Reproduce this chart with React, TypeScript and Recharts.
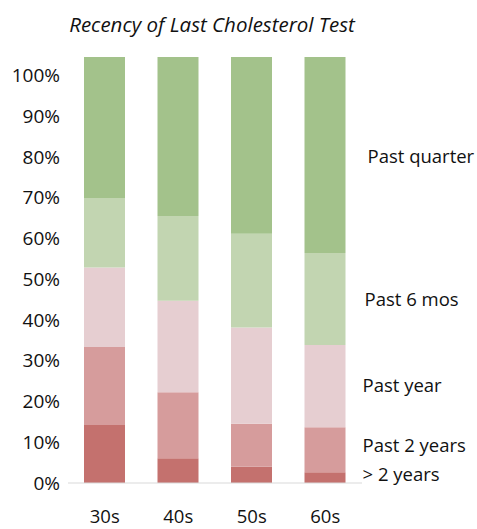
import { BarChart, Bar, Line, XAxis, YAxis, LabelList } from 'recharts';

document.body.style.margin = '0';

const ageGroups = ['30s', '40s', '50s', '60s'];

// share of respondents per recency bucket, bottom to top of each stack
const overTwoYears = [0.136, 0.058, 0.038, 0.025];
const pastTwoYears = [0.183, 0.155, 0.101, 0.106];
const pastYear = [0.187, 0.215, 0.226, 0.193];
const pastSixMonths = [0.163, 0.199, 0.22, 0.216];
const pastQuarter = [0.331, 0.373, 0.415, 0.46];

const percentTicks = [0, 0.1, 0.2, 0.3, 0.4, 0.5, 0.6, 0.7, 0.8, 0.9, 1];
const boundaryTicks = [1, 2, 3];

const series = [
  { key: 'overTwo', name: '> 2 years', values: overTwoYears, color: '#c4716e', dx: 0, dy: -4 },
  { key: 'pastTwo', name: 'Past 2 years', values: pastTwoYears, color: '#d69c9c', dx: 0, dy: -5 },
  { key: 'pastYear', name: 'Past year', values: pastYear, color: '#e6ced1', dx: 0, dy: -2 },
  { key: 'pastSix', name: 'Past 6 mos', values: pastSixMonths, color: '#c2d5b1', dx: 2, dy: 0 },
  { key: 'pastQuarter', name: 'Past quarter', values: pastQuarter, color: '#a3c28b', dx: 5, dy: 1 },
];

const data = ageGroups.map((age, i) => {
  const row: Record<string, string | number> = { age, slot: i + 0.5 };
  series.forEach(s => {
    row[s.key] = s.values[i];
  });
  return row;
});

const FONT = '"Open Sans", sans-serif';

const lastIndex = ageGroups.length - 1;

// names are written beside the last stack only, at the middle of each segment
const sideLabel = (name: string, dx: number, dy: number) => (props: any) => {
  if (props.index !== lastIndex) return null;
  return (
    <text
      x={props.x + props.width + 17 + dx}
      y={props.y + props.height / 2 + dy}
      dominantBaseline="central"
      fontFamily={FONT}
      fontSize={18.5}
      fill="#111"
    >
      {name}
    </text>
  );
};

export default function App() {
  return (
    <div style={{ position: 'relative', width: 477, height: 529, background: '#fff' }}>
      <div
        style={{
          position: 'absolute',
          left: 0,
          top: 11,
          width: 424,
          textAlign: 'center',
          fontFamily: FONT,
          fontStyle: 'italic',
          fontSize: 20.5,
          lineHeight: '26px',
          color: '#111',
        }}
      >
        Recency of Last Cholesterol Test
      </div>
      <BarChart width={477} height={529} data={data} margin={{ top: 57, right: 115, bottom: 0, left: 0 }}>
        {/* category boundary tick marks under the baseline */}
        <XAxis
          xAxisId="bounds"
          type="number"
          dataKey="slot"
          domain={[0, 4]}
          ticks={boundaryTicks}
          height={0}
          axisLine={false}
          tick={false}
          tickSize={6}
          tickLine={{ stroke: '#c8c8c8' }}
        />
        <XAxis
          dataKey="age"
          xAxisId="main"
          height={46}
          tickSize={0}
          tickMargin={27}
          axisLine={{ stroke: '#d9d9d9' }}
          tick={{ fontFamily: FONT, fontSize: 18.5, fill: '#111' }}
        />
        <YAxis
          yAxisId="scale"
          width={68}
          domain={[0, 1.045]}
          ticks={percentTicks}
          allowDataOverflow
          axisLine={false}
          tickLine={false}
          tickFormatter={(v: number) => `${Math.round(v * 100)}%`}
          tick={{ fontFamily: FONT, fontSize: 19, fill: '#111' }}
        />
        <YAxis yAxisId="bars" hide orientation="right" width={0} domain={[0, 1]} />
        {series.map(s => (
          <Bar
            key={s.key}
            dataKey={s.key}
            name={s.name}
            stackId="recency"
            xAxisId="main"
            yAxisId="bars"
            fill={s.color}
            barSize={41}
            isAnimationActive={false}
          >
            <LabelList dataKey={s.key} content={sideLabel(s.name, s.dx, s.dy)} />
          </Bar>
        ))}
        {/* invisible series that keeps the percent scale and boundary ticks attached */}
        <Line
          xAxisId="bounds"
          yAxisId="scale"
          dataKey="overTwo"
          stroke="none"
          dot={false}
          activeDot={false}
          legendType="none"
          isAnimationActive={false}
        />
      </BarChart>
    </div>
  );
}
